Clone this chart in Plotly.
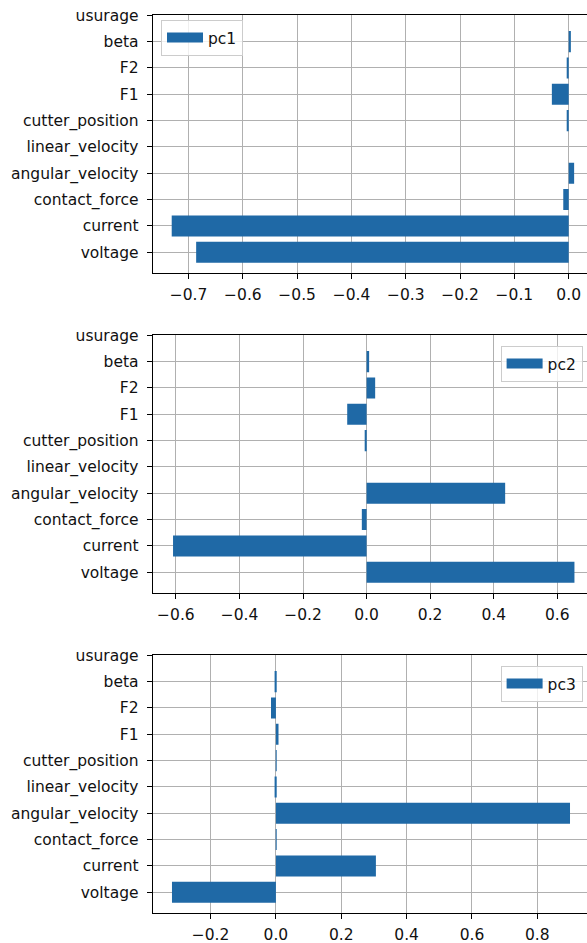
import plotly.graph_objects as go

# ---- data ----
features = ["voltage", "current", "contact_force", "angular_velocity",
            "linear_velocity", "cutter_position", "F1", "F2", "beta", "usurage"]
pc1 = [-0.686, -0.731, -0.010, 0.010, 0.0, -0.003, -0.031, -0.003, 0.004, 0.0]
pc2 = [0.654, -0.609, -0.015, 0.436, 0.0, -0.006, -0.061, 0.027, 0.008, 0.0]
pc3 = [-0.318, 0.306, 0.001, 0.900, -0.004, 0.001, 0.008, -0.015, -0.004, 0.0]
series_names = ["pc1", "pc2", "pc3"]

# ---- style / layout ----
W, H = 587, 943
BAR = "#1f69a6"
FONT = dict(family="DejaVu Sans", size=15.5, color="#111111")
GRID = "#b0b0b0"

x_ranges = [[-0.766, 0.0337], [-0.673, 0.6935], [-0.377, 0.952]]
x_dticks = [0.1, 0.2, 0.2]
plot_top_px = [15.3, 335.3, 655.3]
plot_h_px = 258.0
left_px = 152.7
legend_pos = [  # (x_px_left, y_px_center, entrywidth)
    (161, 38, 0),
    (500.6, 364, 40),
    (500.6, 684, 40),
]

fig = go.Figure()
series = [pc1, pc2, pc3]
for i, (vals, name) in enumerate(zip(series, series_names)):
    xa = "x" if i == 0 else f"x{i+1}"
    ya = "y" if i == 0 else f"y{i+1}"
    lg = "legend" if i == 0 else f"legend{i+1}"
    fig.add_trace(go.Bar(
        x=vals, y=features, orientation="h", marker_color=BAR,
        marker_line_width=0, xaxis=xa, yaxis=ya, showlegend=False,
    ))
    # legend entry (wide patch like matplotlib)
    fig.add_trace(go.Scatter(
        x=[None], y=[None], mode="lines", name=name,
        line=dict(color=BAR, width=11), xaxis=xa, yaxis=ya, legend=lg,
    ))

layout = dict(
    width=W, height=H, margin=dict(l=0, r=0, t=0, b=0),
    paper_bgcolor="white", plot_bgcolor="white",
    font=FONT, bargap=0.2,
)
for i in range(3):
    top = 1 - plot_top_px[i] / H
    bot = 1 - (plot_top_px[i] + plot_h_px) / H
    sfx = "" if i == 0 else str(i + 1)
    layout[f"xaxis{sfx}"] = dict(
        domain=[left_px / W, 1], anchor=f"y{sfx}", range=x_ranges[i],
        dtick=x_dticks[i], tick0=0, tickformat=".1f",
        showgrid=True, gridcolor=GRID, gridwidth=1.1,
        showline=True, linecolor="black", linewidth=1.1, mirror=True,
        ticks="outside", ticklen=5, tickwidth=1.1, tickcolor="black",
        ticklabelstandoff=2,
        zeroline=False, tickfont=FONT, automargin=False, fixedrange=True,
    )
    layout[f"yaxis{sfx}"] = dict(
        domain=[bot, top], anchor=f"x{sfx}", type="category",
        categoryorder="array", categoryarray=features, range=[-0.8, 9.0],
        showgrid=True, gridcolor=GRID, gridwidth=1.1,
        showline=True, linecolor="black", linewidth=1.1, mirror=False,
        ticks="outside", ticklen=5, tickwidth=1.1, tickcolor="black",
        ticklabelstandoff=5,
        zeroline=False, tickfont=FONT, automargin=False, fixedrange=True,
    )
    lx, ly, ew = legend_pos[i]
    leg = dict(
        x=lx / W, y=1 - ly / H, xanchor="left", yanchor="middle",
        xref="paper", yref="paper",
        bgcolor="rgba(255,255,255,0.8)", bordercolor="#cccccc", borderwidth=1,
        font=FONT, itemwidth=36,
    )
    if ew:
        leg["entrywidth"] = ew
        leg["entrywidthmode"] = "pixels"
    layout[f"legend{sfx}"] = leg

fig.update_layout(**layout)
fig.write_html(
    "out.html",
    config={"displayModeBar": False},
    post_script="document.body.style.margin='0';document.body.style.overflow='hidden';",
)
